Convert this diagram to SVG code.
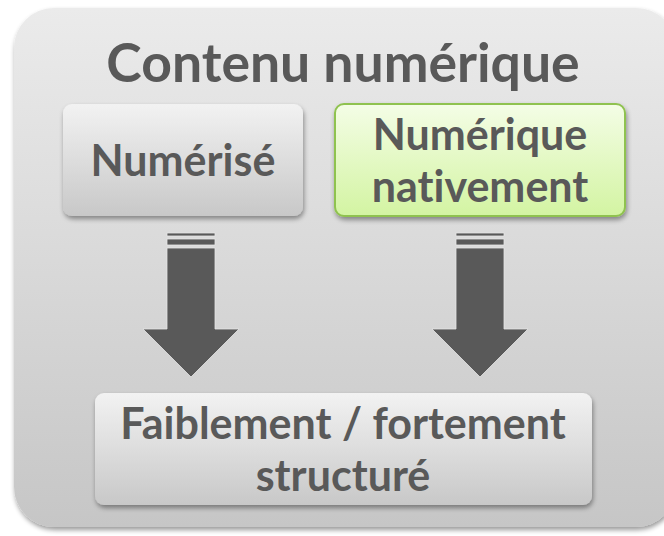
<svg xmlns="http://www.w3.org/2000/svg" width="664" height="536" viewBox="0 0 664 536">
  <defs>
    <linearGradient id="gOuter" x1="0" y1="0" x2="0" y2="1">
      <stop offset="0" stop-color="#ebebeb"/>
      <stop offset="1" stop-color="#c6c6c6"/>
    </linearGradient>
    <linearGradient id="gGray" x1="0" y1="0" x2="0" y2="1">
      <stop offset="0" stop-color="#f2f2f2"/>
      <stop offset="1" stop-color="#c8c8c8"/>
    </linearGradient>
    <linearGradient id="gGreen" x1="0" y1="0" x2="0" y2="1">
      <stop offset="0" stop-color="#f4fde6"/>
      <stop offset="1" stop-color="#d3f4a2"/>
    </linearGradient>
    <filter id="shadow" x="-10%" y="-10%" width="125%" height="130%">
      <feGaussianBlur in="SourceAlpha" stdDeviation="2.5"/>
      <feOffset dx="1" dy="3" result="b"/>
      <feComponentTransfer><feFuncA type="linear" slope="0.4"/></feComponentTransfer>
      <feMerge><feMergeNode/><feMergeNode in="SourceGraphic"/></feMerge>
    </filter>
    <g id="arrow">
      <rect x="-24" y="0" width="48" height="3"/>
      <rect x="-24" y="6" width="48" height="6"/>
      <polygon points="-24,15 24,15 24,96 48,96 0,144 -48,96 -24,96"/>
    </g>
  </defs>
  <style>
    .t { font-family: Lato, "Open Sans", "Liberation Sans", sans-serif; font-weight: bold; fill: #595959; text-anchor: middle; font-variant-ligatures: none; }
    .arr { fill: #595959; stroke: #e6e6e6; stroke-width: 0.8; }
  </style>

  <g id="container">
    <rect x="14" y="8" width="662" height="519" rx="40" ry="40" fill="url(#gOuter)" filter="url(#shadow)"/>
    <text class="t" x="343" y="82" font-size="53.5">Contenu numérique</text>
  </g>

  <g id="node-numerise">
    <rect x="63" y="104" width="240" height="112" rx="9" fill="url(#gGray)" filter="url(#shadow)"/>
    <text class="t" x="183" y="176" font-size="43">Numérisé</text>
  </g>

  <g id="node-natif">
    <rect x="335" y="104" width="290" height="112" rx="9" fill="url(#gGreen)" stroke="#8fc24f" stroke-width="2" filter="url(#shadow)"/>
    <text class="t" x="480" y="150" font-size="43">Numérique</text>
    <text class="t" x="480" y="202" font-size="43">nativement</text>
  </g>

  <g id="node-structure">
    <rect x="95" y="393" width="497" height="112" rx="9" fill="url(#gGray)" filter="url(#shadow)"/>
    <text class="t" x="343" y="439" font-size="43">Faiblement / fortement</text>
    <text class="t" x="343" y="491" font-size="43">structuré</text>
  </g>

  <g id="connectors" class="arr">
    <use href="#arrow" transform="translate(191,233)"/>
    <use href="#arrow" transform="translate(480,233)"/>
  </g>
</svg>
